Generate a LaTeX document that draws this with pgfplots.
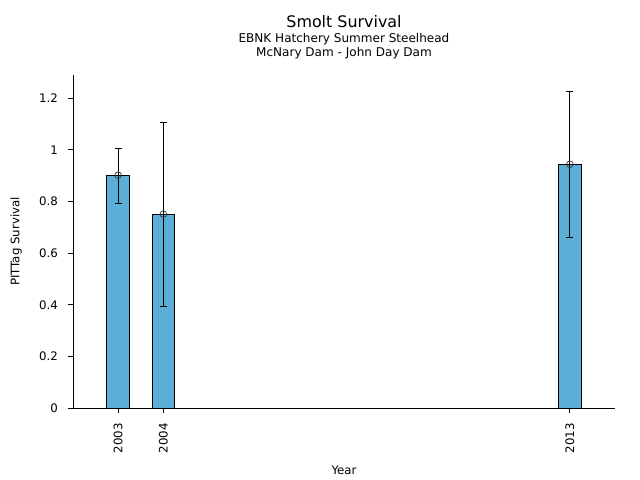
\documentclass[border=0pt]{standalone}
\usepackage{fontspec}
\setmainfont{DejaVu Sans}
\usepackage{pgfplots}
\usepackage{pgfplotstable}
\pgfplotsset{compat=1.18}

\definecolor{barblue}{RGB}{91,174,214}

% survival estimate with lower/upper confidence limits as +/- errors
\pgfplotstableread{
year  val     em      ep
2003  0.902   0.108   0.104
2004  0.751   0.356   0.356
2013  0.9445  0.2825  0.2825
}\survival

\begin{document}
\begin{tikzpicture}
\useasboundingbox (0,0) rectangle (6.4in,4.8in);
\begin{axis}[
    at={(0.73in,0.72in)}, anchor=south west,
    width=5.42in, height=3.33in, scale only axis,
    xmin=2002, xmax=2014,
    ymin=0, ymax=1.29,
    axis x line*=bottom, axis y line*=left,
    axis line style={-, line width=0.6pt},
    tick align=outside, major tick length=3.5pt,
    tick style={black, line width=0.6pt},
    xtick={2003,2004,2013},
    xticklabels={2003,2004,2013},
    ytick={0,0.2,0.4,0.6,0.8,1,1.2},
    yticklabels={0,0.2,0.4,0.6,0.8,1,1.2},
    /pgf/number format/assume math mode=true,
    ticklabel style={font=\fontsize{8.5}{10}\selectfont},
    xticklabel style={yshift=-4pt, rotate=90, anchor=east},
    yticklabel style={xshift=-4pt},
    xlabel={Year}, ylabel={PITTag Survival},
    label style={font=\fontsize{8.5}{10}\selectfont},
    xlabel style={at={(axis description cs:0.5,-0.186)}, anchor=center},
    ylabel style={at={(axis description cs:-0.105,0.5)}, anchor=center, rotate=0},
    clip=false,
]
\addplot[ybar, bar width=0.5, fill=barblue, draw=black, line width=0.6pt,
    error bars/.cd, y dir=both, y explicit, error mark=|,
    error bar style={black, line width=0.6pt},
    error mark options={black, mark size=2.6pt, line width=0.6pt}]
    table[x=year, y=val, y error plus=ep, y error minus=em] {\survival};
\addplot[only marks, mark=o, mark size=2.4pt,
    mark options={draw=black!80, line width=0.5pt}]
    table[x=year, y=val] {\survival};
\end{axis}
\node[anchor=base] at (3.44in,4.52in) {\fontsize{11.5}{13}\selectfont Smolt Survival};
\node[anchor=base] at (3.44in,4.37in) {\fontsize{8.7}{10}\selectfont EBNK Hatchery Summer Steelhead};
\node[anchor=base] at (3.44in,4.23in) {\fontsize{8.7}{10}\selectfont McNary Dam - John Day Dam};
\end{tikzpicture}
\end{document}
